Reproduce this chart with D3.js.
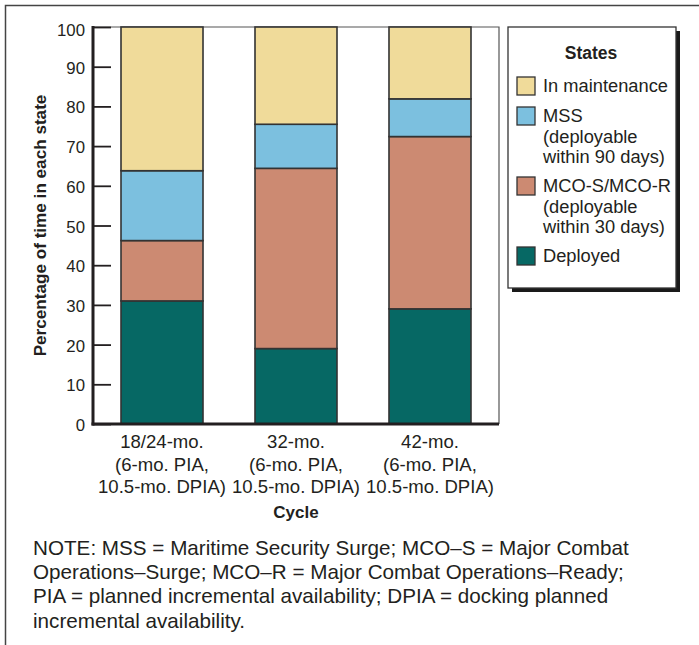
<!DOCTYPE html>
<html>
<head>
<meta charset="utf-8">
<script src="https://cdn.jsdelivr.net/npm/d3@7"></script>
<style>
  body { margin: 0; background: #fff; }
  svg { display: block; font-family: "Liberation Sans", Arial, sans-serif; }
</style>
</head>
<body>
<svg id="chart" width="699" height="645"></svg>
<script>
// ---- data ----
const categories = ["18/24-mo.", "32-mo.", "42-mo."];
const categoryLines = [
  ["18/24-mo.", "(6-mo. PIA,", "10.5-mo. DPIA)"],
  ["32-mo.", "(6-mo. PIA,", "10.5-mo. DPIA)"],
  ["42-mo.", "(6-mo. PIA,", "10.5-mo. DPIA)"]
];
const seriesNames = ["Deployed", "MCO-S/MCO-R", "MSS", "In maintenance"];
const deployed = [31, 19, 29];
const mco = [15.2, 45.4, 43.4];
const mss = [17.6, 11.1, 9.5];
const maintenance = [36.2, 24.5, 18.1];
const yTicks = [0, 10, 20, 30, 40, 50, 60, 70, 80, 90, 100];
const legendItems = [
  { key: "In maintenance", lines: ["In maintenance"] },
  { key: "MSS", lines: ["MSS", "(deployable", "within 90 days)"] },
  { key: "MCO-S/MCO-R", lines: ["MCO-S/MCO-R", "(deployable", "within 30 days)"] },
  { key: "Deployed", lines: ["Deployed"] }
];
const noteLines = [
  "NOTE: MSS = Maritime Security Surge; MCO\u2013S = Major Combat",
  "Operations\u2013Surge; MCO\u2013R = Major Combat Operations\u2013Ready;",
  "PIA = planned incremental availability; DPIA = docking planned",
  "incremental availability."
];
const colors = {
  "In maintenance": "#F0DB9A",
  "MSS": "#7CC0DF",
  "MCO-S/MCO-R": "#CC8A72",
  "Deployed": "#066864"
};

// ---- build table ----
const table = categories.map((c, i) => ({
  cat: c,
  "Deployed": deployed[i],
  "MCO-S/MCO-R": mco[i],
  "MSS": mss[i],
  "In maintenance": maintenance[i]
}));

const svg = d3.select("#chart");
const ink = "#231f20";

// helper: font size so that a sample string gets a given width
function fitSize(sample, width, weight) {
  const t = svg.append("text").attr("font-size", 20).attr("font-weight", weight || "normal").text(sample);
  const w = t.node().getComputedTextLength();
  t.remove();
  return 20 * width / w;
}
const fsTick = Math.min(17.5, fitSize("100", 28));
const fsXLab = fitSize("10.5-mo. DPIA)", 128);
const fsLeg = Math.min(18.3, fitSize("In maintenance", 126));
const fsNote = Math.min(21.4, fitSize(noteLines[0], 596));
const fsYTitle = fitSize("Percentage of time in each state", 262, "bold");

// outer frame (top and left)
svg.append("path")
  .attr("d", "M5.5,645 L5.5,5.5 L699,5.5")
  .attr("fill", "none").attr("stroke", "#444").attr("stroke-width", 1.5);

const plot = { left: 93, right: 499, top: 27, bottom: 424 };

const x = d3.scaleBand().domain(categories)
  .range([plot.left, plot.right]).paddingInner(0.388).paddingOuter(0.209);
const y = d3.scaleLinear().domain([0, 100]).range([plot.bottom, plot.top]);

// plot frame top/right
svg.append("path")
  .attr("d", `M${plot.left},${plot.top} L${plot.right},${plot.top} L${plot.right},${plot.bottom}`)
  .attr("fill", "none").attr("stroke", "#555").attr("stroke-width", 1.2);

// stacked bars
const stack = d3.stack().keys(seriesNames)(table);
svg.append("g").selectAll("g").data(stack).join("g")
  .attr("fill", d => colors[d.key])
  .selectAll("rect").data(d => d).join("rect")
  .attr("x", d => x(d.data.cat))
  .attr("width", x.bandwidth())
  .attr("y", d => y(d[1]))
  .attr("height", d => y(d[0]) - y(d[1]))
  .attr("stroke", "#333").attr("stroke-width", 1.6);

// y axis
const yAxis = svg.append("g").attr("transform", `translate(${plot.left},0)`)
  .call(d3.axisRight(y).tickValues(yTicks).tickSize(18).tickFormat(""));
yAxis.select(".domain").remove();
yAxis.selectAll(".tick line").attr("stroke", ink).attr("stroke-width", 1.8);
svg.append("g").selectAll("text").data(yTicks).join("text")
  .attr("x", plot.left - 8).attr("y", d => y(d) + (d === 100 ? 3 : 1))
  .attr("dy", "0.36em").attr("text-anchor", "end")
  .attr("font-size", fsTick).attr("fill", ink).text(d => d);
svg.append("line")
  .attr("x1", plot.left).attr("x2", plot.left)
  .attr("y1", plot.top - 1).attr("y2", plot.bottom + 1.5)
  .attr("stroke", ink).attr("stroke-width", 3);
// x axis
svg.append("line")
  .attr("x1", plot.left - 1.5).attr("x2", plot.right)
  .attr("y1", plot.bottom).attr("y2", plot.bottom)
  .attr("stroke", ink).attr("stroke-width", 3);

// x labels
const xl = svg.append("g").selectAll("text").data(categories).join("text")
  .attr("text-anchor", "middle").attr("font-size", fsXLab).attr("fill", ink);
xl.each(function(c, i) {
  const t = d3.select(this);
  categoryLines[i].forEach((ln, j) => {
    t.append("tspan").attr("x", x(c) + x.bandwidth() / 2)
      .attr("y", 448 + j * 22.5).text(ln);
  });
});
svg.append("text").attr("x", x(categories[1]) + x.bandwidth() / 2).attr("y", 518)
  .attr("text-anchor", "middle").attr("font-size", 17).attr("font-weight", "bold")
  .attr("fill", ink).text("Cycle");

// y title
svg.append("text")
  .attr("transform", `translate(46,${(plot.top + plot.bottom) / 2}) rotate(-90)`)
  .attr("text-anchor", "middle").attr("font-size", fsYTitle).attr("font-weight", "bold")
  .attr("fill", ink).text("Percentage of time in each state");

// legend
const lg = { x: 508, y: 27, w: 168, h: 261 };
svg.append("rect").attr("x", lg.x + 4).attr("y", lg.y + 4).attr("width", lg.w).attr("height", lg.h)
  .attr("fill", "#1a1a1a");
svg.append("rect").attr("x", lg.x).attr("y", lg.y).attr("width", lg.w).attr("height", lg.h)
  .attr("fill", "#fff").attr("stroke", "#333").attr("stroke-width", 1.3);
svg.append("text").attr("x", 591).attr("y", 59).attr("text-anchor", "middle")
  .attr("font-size", 17.5).attr("font-weight", "bold").attr("fill", ink).text("States");
const itemTops = [77, 107, 177, 247];
const li = svg.append("g").selectAll("g").data(legendItems).join("g");
li.append("rect").attr("x", 517).attr("y", (d, i) => itemTops[i])
  .attr("width", 18).attr("height", 18)
  .attr("fill", d => colors[d.key]).attr("stroke", "#333").attr("stroke-width", 1.3);
li.append("text").attr("font-size", fsLeg).attr("fill", ink)
  .each(function(d, i) {
    const t = d3.select(this);
    d.lines.forEach((ln, j) => {
      t.append("tspan").attr("x", 543).attr("y", itemTops[i] + 15 + j * 20.6).text(ln);
    });
  });

// note
svg.append("text").attr("font-size", fsNote).attr("fill", ink)
  .selectAll("tspan").data(noteLines).join("tspan")
  .attr("x", 33).attr("y", (d, i) => 555 + i * 24.2).text(d => d);
</script>
</body>
</html>
